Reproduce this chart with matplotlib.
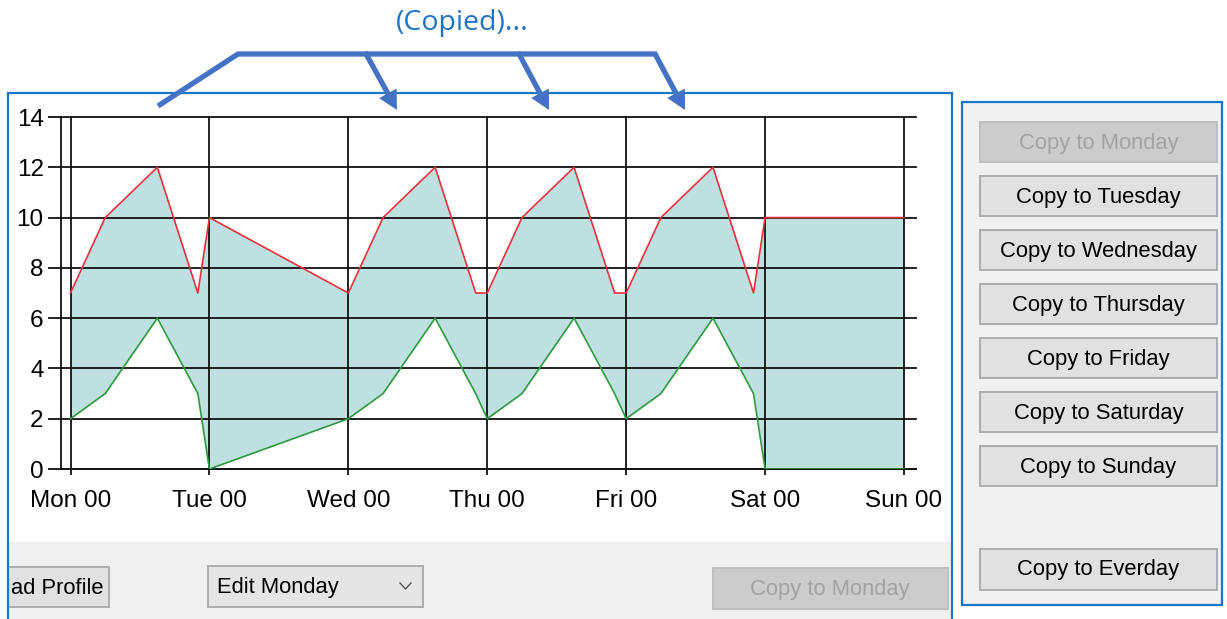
import numpy as np
import matplotlib
matplotlib.use("Agg")
import matplotlib.pyplot as plt
from matplotlib.patches import Rectangle, Polygon

# Weekly setpoint profile: hours since Monday 00:00, upper and lower limits
hours = [0, 6, 15, 22, 24, 48, 54, 63, 70, 72, 78, 87, 94, 96, 102, 111, 118, 120, 144]
upper = [7, 10, 12, 7, 10, 7, 10, 12, 7, 7, 10, 12, 7, 7, 10, 12, 7, 10, 10]
lower = [2, 3, 6, 3, 0, 2, 3, 6, 3, 2, 3, 6, 3, 2, 3, 6, 3, 0, 0]

day_ticks = [0, 24, 48, 72, 96, 120, 144]
day_labels = ["Mon 00", "Tue 00", "Wed 00", "Thu 00", "Fri 00", "Sat 00", "Sun 00"]
value_ticks = [0, 2, 4, 6, 8, 10, 12, 14]

side_buttons = ["Copy to Monday", "Copy to Tuesday", "Copy to Wednesday", "Copy to Thursday",
                "Copy to Friday", "Copy to Saturday", "Copy to Sunday"]
copied_note = "(Copied)..."

plt.rcParams["font.family"] = ["Liberation Sans", "DejaVu Sans"]

W, H = 1227, 619
fig = plt.figure(figsize=(W / 100, H / 100), dpi=100)
fig.patch.set_facecolor("white")

# background axes in pixel units (y down) for the window chrome
bg = fig.add_axes([0, 0, 1, 1], zorder=0)
bg.set_xlim(0, W)
bg.set_ylim(H, 0)
bg.axis("off")

BLUE = "#1a78cc"
BTN_FACE, BTN_EDGE = "#e1e1e1", "#adadad"
OFF_FACE, OFF_EDGE, OFF_TEXT = "#cccccc", "#bfbfbf", "#a3a3a3"
FS = 15.8

# left panel: white plot area with grey strip underneath
bg.add_patch(Rectangle((8, 93), 944, 540, fc="white", ec="none"))
bg.add_patch(Rectangle((8, 542), 944, 90, fc="#f0f0f0", ec="none"))

# bottom controls
bg.add_patch(Rectangle((-40, 567), 149, 40, fc=BTN_FACE, ec=BTN_EDGE, lw=1.4))
bg.add_patch(Rectangle((0, 90), 8, H, fc="white", ec="none"))
bg.text(11, 588, "ad Profile", ha="left", va="center", fontsize=FS, color="black")

bg.add_patch(Rectangle((208, 566), 215, 41, fc="#e5e5e5", ec=BTN_EDGE, lw=1.4))
bg.text(217, 587, "Edit Monday", ha="left", va="center", fontsize=FS, color="black")
bg.plot([400, 405.5, 411], [583, 589, 583], color="#555555", lw=1.0)

bg.add_patch(Rectangle((713, 568), 235, 41, fc=OFF_FACE, ec=OFF_EDGE, lw=1.4))
bg.text(830, 589, "Copy to Monday", ha="center", va="center", fontsize=FS, color=OFF_TEXT)

bg.plot([8, 8, 952, 952], [H + 5, 93, 93, H + 5], color=BLUE, lw=1.6, solid_joinstyle="miter")

# right panel with copy buttons
bg.add_patch(Rectangle((962, 102), 260, 503, fc="#f0f0f0", ec=BLUE, lw=1.6))
for i, label in enumerate(side_buttons):
    top = 122 + i * 54
    disabled = i == 0
    bg.add_patch(Rectangle((980, top), 237, 40, fc=OFF_FACE if disabled else BTN_FACE,
                           ec=OFF_EDGE if disabled else BTN_EDGE, lw=1.4))
    bg.text(1098.5, top + 21, label, ha="center", va="center", fontsize=FS,
            color=OFF_TEXT if disabled else "black")
bg.add_patch(Rectangle((980, 549), 237, 41, fc=BTN_FACE, ec=BTN_EDGE, lw=1.4))
bg.text(1098.5, 570, "Copy to Everday", ha="center", va="center", fontsize=FS, color="black")

# "copied" annotation arrows above the chart
ARROW = "#4472c4"
bg.text(462, 23, copied_note, ha="center", va="center", fontsize=20.5, color="#1f74c4",
        family="Open Sans")
bg.plot([158, 238, 654], [106, 54, 54], color=ARROW, lw=3.8, solid_capstyle="butt",
        solid_joinstyle="miter", zorder=5)
for x0, x1 in [(365, 397), (518, 549), (654, 685)]:
    start = np.array([x0, 52.0])
    tip = np.array([x1, 110.0])
    d = (tip - start) / np.hypot(*(tip - start))
    n = np.array([-d[1], d[0]])
    base = tip - d * 19
    bg.plot([start[0], base[0] + d[0]], [start[1], base[1] + d[1]], color=ARROW, lw=3.8,
            solid_capstyle="butt", zorder=5)
    bg.add_patch(Polygon([tip, base + n * 10, base - n * 10], closed=True, fc=ARROW, ec="none", zorder=5))

# the chart itself
px_per_h = (904 - 70.5) / 144
x_left = -(70.5 - 61) / px_per_h
x_right = 144 + (916 - 904) / px_per_h
ax = fig.add_axes([61 / W, 1 - 469 / H, (916 - 61) / W, (469 - 117) / H], zorder=1)
ax.set_facecolor("none")
ax.fill_between(hours, lower, upper, color="#bfe0e0", lw=0, zorder=1)
ax.plot(hours, upper, color="#e8303c", lw=1.2, zorder=3)
ax.plot(hours, lower, color="#2e9a40", lw=1.2, zorder=3)

ax.set_xlim(x_left, x_right)
ax.set_ylim(0, 14)
ax.set_xticks(day_ticks)
ax.set_xticklabels(day_labels)
ax.set_yticks(value_ticks)
ax.grid(True, color="#111111", lw=1.3)
ax.set_axisbelow(False)
for line in ax.get_ygridlines() + ax.get_xgridlines():
    line.set_clip_on(False)
    line.set_zorder(2.5)
for side in ["top", "right"]:
    ax.spines[side].set_visible(False)
for side in ["left", "bottom"]:
    ax.spines[side].set_color("#111111")
    ax.spines[side].set_linewidth(1.3)
ax.tick_params(axis="y", length=9.5, width=1.3, pad=3, labelsize=17.5, colors="#111111",
               labelcolor="black")
ax.tick_params(axis="x", length=4, width=1.3, pad=11, labelsize=17.5, colors="#111111",
               labelcolor="black")

fig.savefig("out.png", dpi=100)
